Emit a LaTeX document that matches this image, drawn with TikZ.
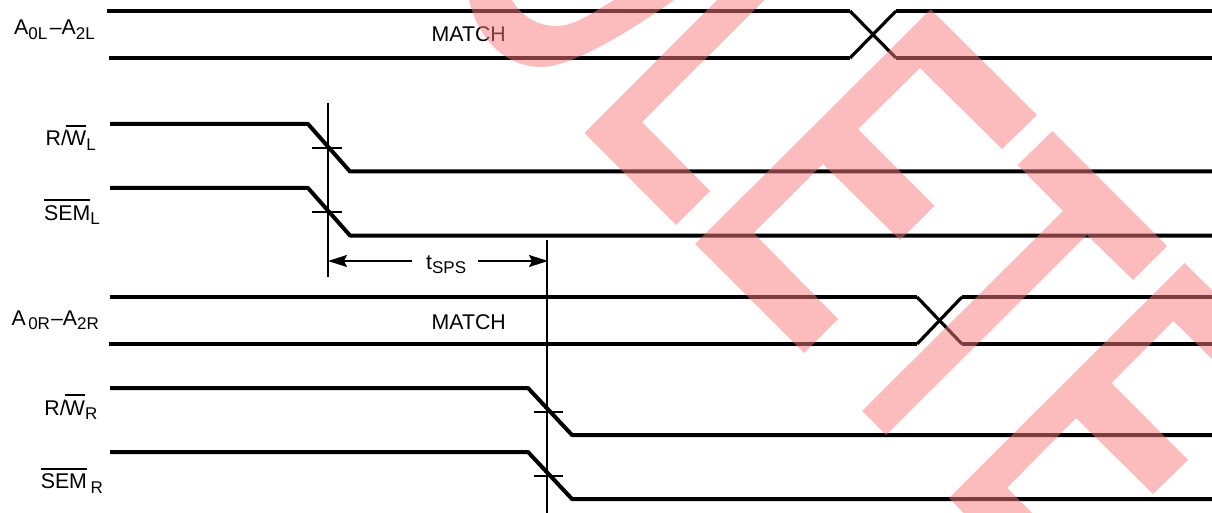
\documentclass[tikz,border=0pt]{standalone}
\usepackage{tikz}
\usepackage{xcolor}
\usepackage{fontspec}
\setmainfont{Liberation Sans}
\usetikzlibrary{arrows.meta}
\definecolor{stampred}{RGB}{250,120,122}
\newcommand{\subl}[1]{\raisebox{-4.5pt}{\fontsize{17}{18}\selectfont #1}}
\newcommand{\barred}[1]{\sbox0{#1}\rlap{\rule[19pt]{\wd0}{1.7pt}}#1}

\begin{document}
\begin{tikzpicture}[x=1pt,y=-1pt]
    \tikzstyle{sigline} = [line width=4pt]
    \tikzstyle{crossline} = [line width=3.2pt]
    \tikzstyle{thinline} = [line width=2pt]
    \tikzstyle{dimarrow} = [line width=1.6pt,-{Stealth[length=19pt,width=12pt,inset=3pt]}]
    \tikzstyle{ann} = [inner sep=0pt,font=\fontsize{21.3}{24}\selectfont]
    \tikzstyle{stamp} = [fill=stampred,fill opacity=0.5]

    \useasboundingbox (0,0) rectangle (1212,513);

    % left port
    \draw[sigline](107,11)--(850,11);
    \draw[sigline](896,11)--(1212,11);
    \draw[sigline](109,58)--(850,58);
    \draw[sigline](896,58)--(1212,58);
    \draw[crossline](850,11)--(896,58);
    \draw[crossline](850,58)--(896,11);
    \draw[sigline,line join=bevel](110,124)--(308,124)--(350,171.5)--(1212,171.5);
    \draw[sigline,line join=bevel](110,188)--(308,188)--(350,235.5)--(1212,235.5);
    \draw[thinline](328,103)--(328,277);
    \draw[thinline](312,147.7)--(342,147.7);
    \draw[thinline](312,211.7)--(342,211.7);

    % right port
    \draw[sigline](110,297)--(917,297);
    \draw[sigline](962,297)--(1212,297);
    \draw[sigline](109,344)--(917,344);
    \draw[sigline](962,344)--(1212,344);
    \draw[crossline](917,297)--(962,344);
    \draw[crossline](917,344)--(962,297);
    \draw[sigline,line join=bevel](110,388)--(528,388)--(572,435)--(1212,435);
    \draw[sigline,line join=bevel](110,452)--(528,452)--(572,499)--(1212,499);
    \draw[thinline](547,240)--(547,513);
    \draw[thinline](534,411.7)--(563,411.7);
    \draw[thinline](534,476)--(563,476);

    % labels
    \node[ann,anchor=base east] (aleft) at (95,35) {A\subl{0L}\kern2.5pt–A\subl{2L}};
    \node[ann,anchor=base east] (rwleft) at (96,145.7) {R/\kern-0.8pt\barred{W}\subl{L}};
    \node[ann,anchor=base east] (semleft) at (100,220) {\barred{SEM}\subl{L}};
    \node[ann,anchor=base east] (aright) at (99,325) {A\kern2.5pt\subl{0R}\kern1pt–A\subl{2R}};
    \node[ann,anchor=base east] (rwright) at (97.5,415) {R/\kern-0.8pt\barred{W}\subl{R}};
    \node[ann,anchor=base east] (semright) at (103,488.7) {\barred{SEM}\,\subl{R}};
    \node[ann,anchor=base west] (matchleft) at (431.5,41.7) {MATCH};
    \node[ann,anchor=base west] (matchright) at (431.5,329) {MATCH};
    \node[ann,anchor=base west] (tsps) at (426,269) {t\subl{SPS}};

    \coordinate (tsl) at (412,261);
    \coordinate (tsr) at (478,261);
    \coordinate (tsa) at (328,261);
    \coordinate (tsb) at (548,261);
    \draw[dimarrow] (tsl) -- (tsa);
    \draw[dimarrow] (tsr) -- (tsb);

    % stamp over everything
    \begin{scope}
    \clip (0,0) rectangle (1212,513);
    \fill[stamp](469,0) .. controls (480,45) and (510,67) .. (541,67)
                 .. controls (570,67) and (625,35) .. (674,0)--(614,0)
                 .. controls (590,14) and (575,26) .. (556,26)
                 .. controls (535,26) and (520,14) .. (512,0)--cycle;
    \fill[stamp](717,0)--(764.5,0)--(642,122)--(710,191)--(676,225)
                 --(584.5,133)--cycle;
    \fill[stamp](930.7,9.3)--(1037,115)--(1002,149)--(920,68)--(858,129)
                 --(934.5,206)--(900,240)--(823,164)--(753.6,233)--(838,319)
                 --(804,353)--(695,244)--cycle;
    \fill[stamp](1052.4,131)--(1167,246)--(1133,280)--(1087,235)--(886,435)
                 --(862,411)--(1063,211)--(1017.6,165)--cycle;
    \fill[stamp](1184.6,263)--(1240,318)--(1212,359)--(1173.4,321)--(1111.5,383)
                 --(1188,460)--(1153,494)--(1076,418)--(1007,488)--(1032,513)
                 --(963.5,513)--(949,498)--cycle;
    \end{scope}
\end{tikzpicture}
\end{document}
